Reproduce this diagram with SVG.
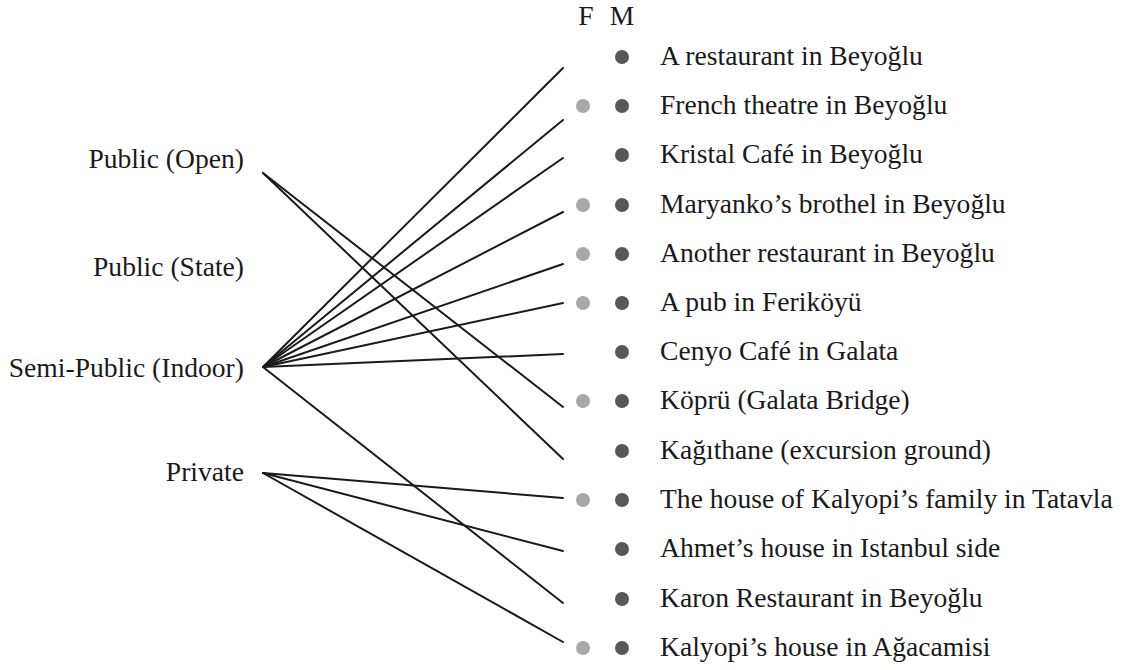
<svg xmlns="http://www.w3.org/2000/svg" width="1128" height="670" viewBox="0 0 1128 670">
<style>
text{font-family:"Liberation Serif","Times New Roman",serif;font-size:27.6px;fill:#1a1a1a}
.l{text-anchor:end}
.c{text-anchor:middle}
.f{fill:#a8a8a8}
.m{fill:#58585a}
.cn line{stroke:#1a1a1a;stroke-width:2;stroke-linecap:round}
</style>
<rect width="1128" height="670" fill="#fff"/>
<g id="header">
<text class="c" x="586" y="25">F</text>
<text class="c" x="622" y="25">M</text>
</g>
<g id="src-public-open"><text class="l" x="244" y="168">Public (Open)</text></g>
<g id="src-public-state"><text class="l" x="244" y="276">Public (State)</text></g>
<g id="src-semi-public"><text class="l" x="244" y="377">Semi-Public (Indoor)</text></g>
<g id="src-private"><text class="l" x="244" y="481">Private</text></g>
<g id="connectors" class="cn">
<line x1="263" y1="173" x2="563" y2="407"/>
<line x1="263" y1="173" x2="563" y2="459"/>
<line x1="263" y1="367" x2="563" y2="68"/>
<line x1="263" y1="367" x2="563" y2="120"/>
<line x1="263" y1="367" x2="563" y2="158"/>
<line x1="263" y1="367" x2="563" y2="212"/>
<line x1="263" y1="367" x2="563" y2="264"/>
<line x1="263" y1="367" x2="563" y2="303"/>
<line x1="263" y1="367" x2="563" y2="354"/>
<line x1="263" y1="367" x2="563" y2="603"/>
<line x1="263" y1="473" x2="563" y2="498"/>
<line x1="263" y1="473" x2="563" y2="551"/>
<line x1="263" y1="473" x2="563" y2="642"/>
</g>
<g id="row1"><circle class="m" cx="622" cy="57" r="7"/><text x="660" y="65">A restaurant in Beyoğlu</text></g>
<g id="row2"><circle class="f" cx="583" cy="106" r="7"/><circle class="m" cx="622" cy="106" r="7"/><text x="660" y="114">French theatre in Beyoğlu</text></g>
<g id="row3"><circle class="m" cx="622" cy="155" r="7"/><text x="660" y="163">Kristal Café in Beyoğlu</text></g>
<g id="row4"><circle class="f" cx="583" cy="205" r="7"/><circle class="m" cx="622" cy="205" r="7"/><text x="660" y="213">Maryanko’s brothel in Beyoğlu</text></g>
<g id="row5"><circle class="f" cx="583" cy="254" r="7"/><circle class="m" cx="622" cy="254" r="7"/><text x="660" y="262">Another restaurant in Beyoğlu</text></g>
<g id="row6"><circle class="f" cx="583" cy="303" r="7"/><circle class="m" cx="622" cy="303" r="7"/><text x="660" y="311">A pub in Feriköyü</text></g>
<g id="row7"><circle class="m" cx="622" cy="352" r="7"/><text x="660" y="360">Cenyo Café in Galata</text></g>
<g id="row8"><circle class="f" cx="583" cy="401" r="7"/><circle class="m" cx="622" cy="401" r="7"/><text x="660" y="409">Köprü (Galata Bridge)</text></g>
<g id="row9"><circle class="m" cx="622" cy="451" r="7"/><text x="660" y="459">Kağıthane (excursion ground)</text></g>
<g id="row10"><circle class="f" cx="583" cy="500" r="7"/><circle class="m" cx="622" cy="500" r="7"/><text x="660" y="508">The house of Kalyopi’s family in Tatavla</text></g>
<g id="row11"><circle class="m" cx="622" cy="549" r="7"/><text x="660" y="557">Ahmet’s house in Istanbul side</text></g>
<g id="row12"><circle class="m" cx="622" cy="599" r="7"/><text x="660" y="607">Karon Restaurant in Beyoğlu</text></g>
<g id="row13"><circle class="f" cx="583" cy="648" r="7"/><circle class="m" cx="622" cy="648" r="7"/><text x="660" y="656">Kalyopi’s house in Ağacamisi</text></g>
</svg>
